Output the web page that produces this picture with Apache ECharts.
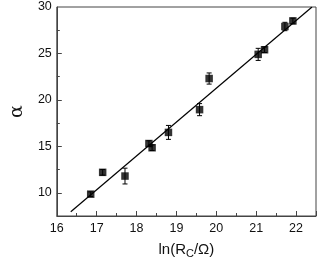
<!DOCTYPE html>
<html>
<head>
<meta charset="utf-8">
<script src="https://cdn.jsdelivr.net/npm/echarts@6/dist/echarts.min.js"></script>
<style>html,body{margin:0;padding:0;background:#fff}#c{width:319px;height:264px}</style>
</head>
<body>
<div id="c"></div>
<script>
const xVals = [16.85, 17.15, 17.71, 18.31, 18.39, 18.80, 19.58, 19.82, 21.05, 21.21, 21.72, 21.92];
const yVals = [9.85, 12.2, 11.8, 15.3, 14.85, 16.5, 18.95, 22.3, 24.9, 25.4, 27.9, 28.5];
const yErr  = [0.25, 0.3, 0.85, 0.3, 0.3, 0.75, 0.65, 0.6, 0.65, 0.3, 0.45, 0.3];
const fitX = [16.35, 22.4];
const fitY = [7.95, 30.0];
const yLabelValues = [10, 15, 20, 25, 30];
const yMajorTicks = [10, 15, 20, 25];
const yMinorTicks = [12.5, 17.5, 22.5, 27.5];

const pts = xVals.map((x, i) => [x, yVals[i]]);
const errData = xVals.map((x, i) => [x, yVals[i] - yErr[i], yVals[i] + yErr[i]]);
const fitData = fitX.map((x, i) => [x, fitY[i]]);

const axisColor = '#444';
const labelFont = { color: '#111', fontSize: 12.5, fontFamily: 'Liberation Sans, Arial, sans-serif' };

const chart = echarts.init(document.getElementById('c'), null, { renderer: 'canvas' });
chart.setOption({
  animation: false,
  grid: { left: 42, right: 3, top: 7, bottom: 43, show: true, borderColor: axisColor, borderWidth: 1, backgroundColor: 'transparent' },
  xAxis: {
    type: 'value', min: 16, max: 22.5, interval: 1,
    axisLine: { show: true, lineStyle: { color: axisColor, width: 1 } },
    axisTick: { show: true, inside: true, length: 5, lineStyle: { color: axisColor } },
    minorTick: { show: true, splitNumber: 2, length: 3, lineStyle: { color: axisColor } },
    axisLabel: Object.assign({ showMaxLabel: false, margin: 6 }, labelFont),
    splitLine: { show: false },
    name: 'ln(R{sub|C}/Ω)',
    nameLocation: 'middle', nameGap: 25,
    nameTextStyle: { color: '#111', fontSize: 15, fontFamily: 'Liberation Sans, Arial, sans-serif',
      rich: { sub: { fontSize: 11, verticalAlign: 'bottom', padding: [7, 0, 0, 0], color: '#111', fontFamily: 'Liberation Sans, Arial, sans-serif' } } }
  },
  yAxis: [{
    type: 'value', min: 7.5, max: 30,
    axisLine: { show: true, lineStyle: { color: axisColor, width: 1 } },
    axisTick: { show: true, inside: true, length: 5, customValues: yMajorTicks, lineStyle: { color: axisColor } },
    axisLabel: Object.assign({ customValues: yLabelValues, margin: 5 }, labelFont),
    splitLine: { show: false },
    name: 'α', nameLocation: 'middle', nameGap: 26, nameRotate: 90,
    nameTextStyle: { color: '#111', fontSize: 19, fontFamily: 'DejaVu Serif, serif' }
  }, {
    type: 'value', min: 7.5, max: 30, position: 'left', offset: 0,
    axisLine: { show: false },
    axisTick: { show: true, inside: true, length: 3, customValues: yMinorTicks, lineStyle: { color: axisColor } },
    axisLabel: { show: false },
    splitLine: { show: false }
  }],
  series: [
    {
      type: 'line', data: fitData, showSymbol: false, symbol: 'none',
      lineStyle: { color: '#000', width: 1.2 }, z: 2
    },
    {
      type: 'custom', data: errData, z: 3,
      renderItem: function (params, api) {
        const x = api.value(0);
        const lo = api.coord([x, api.value(1)]);
        const hi = api.coord([x, api.value(2)]);
        const hw = 2.5;
        const st = { stroke: '#000', lineWidth: 1 };
        return { type: 'group', children: [
          { type: 'line', shape: { x1: lo[0], y1: lo[1], x2: hi[0], y2: hi[1] }, style: st },
          { type: 'line', shape: { x1: lo[0] - hw, y1: lo[1], x2: lo[0] + hw, y2: lo[1] }, style: st },
          { type: 'line', shape: { x1: hi[0] - hw, y1: hi[1], x2: hi[0] + hw, y2: hi[1] }, style: st }
        ]};
      }
    },
    {
      type: 'scatter', data: pts, symbol: 'rect', symbolSize: 7.5,
      itemStyle: { color: '#000' }, z: 4
    }
  ]
});
</script>
</body>
</html>
